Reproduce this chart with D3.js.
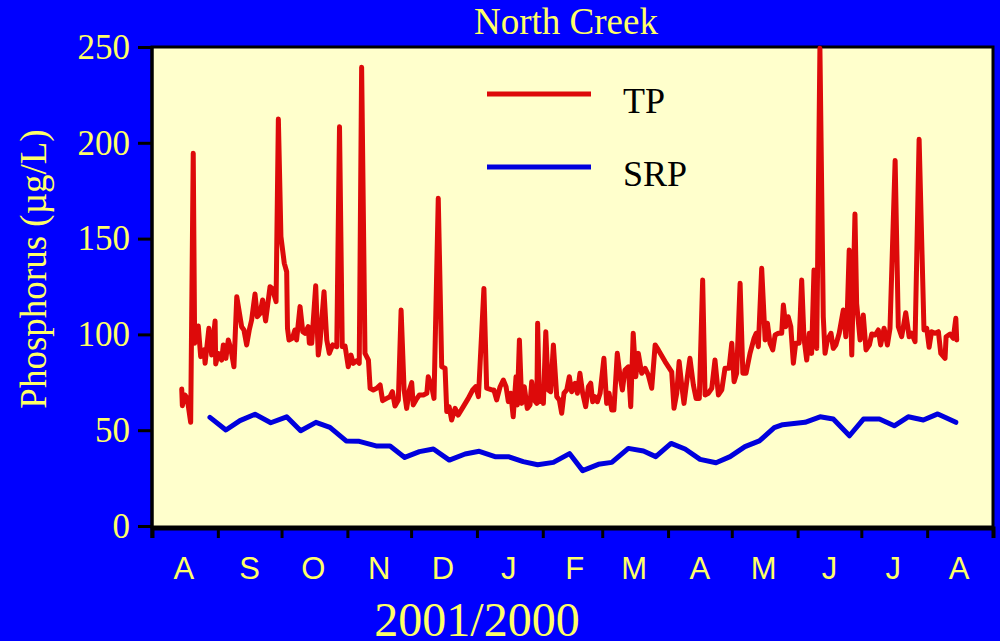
<!DOCTYPE html>
<html lang="en">
<head>
    <meta charset="UTF-8">
    <title>North Creek</title>
    <script src="https://d3js.org/d3.v7.min.js"></script>
    <style>
        html, body { margin: 0; padding: 0; background: #0000ff; }
        svg { display: block; }
        .serif { font-family: "Liberation Serif", "Times New Roman", serif; }
        .sans { font-family: "Liberation Sans", Arial, sans-serif; }
    </style>
</head>
<body>
    <div id="chart"></div>
    <script>
        // days since 1 Aug 2000
        const tpDays = [14.0, 14.3, 15.5, 16.6, 18.2, 19.4, 20.1, 21.8, 22.9, 24.6, 25.0, 26.8, 28.1, 29.7, 30.0,
            31.2, 32.8, 33.6, 34.8, 35.9, 37.1, 38.6, 39.9, 42.2, 43.3, 44.6, 45.8, 46.9, 48.5, 49.6,
            50.9, 52.1, 53.5, 55.6, 56.6, 58.4, 59.5, 60.7, 62.3, 63.4, 63.8, 64.5, 66.1, 67.3, 68.1,
            69.7, 71.0, 72.0, 73.6, 74.1, 75.2, 77.1, 78.3, 79.1, 81.0, 82.3, 83.5, 85.1, 87.0, 88.3,
            89.6, 90.9, 92.4, 93.7, 94.8, 96.4, 97.6, 98.7, 100.3, 101.9, 102.7, 104.2, 105.8, 107.4, 108.6,
            110.5, 112.1, 113.2, 114.4, 116.0, 117.3, 118.7, 119.9, 121.2, 122.3, 123.0, 124.3, 125.9, 127.8, 129.4,
            130.1, 131.7, 132.8, 134.8, 136.4, 138.0, 138.8, 139.9, 141.1, 142.7, 144.2, 146.6, 148.9, 151.0, 152.4,
            153.7, 156.3, 157.6, 160.0, 161.0, 162.3, 163.9, 165.4, 166.7, 167.8, 168.9, 170.1, 171.4, 172.0, 173.0,
            174.1, 175.3, 176.7, 178.0, 178.8, 179.9, 181.2, 181.6, 182.4, 183.5, 184.3, 185.4, 186.6, 187.7, 189.0,
            190.6, 191.8, 192.9, 194.0, 195.3, 196.5, 197.6, 199.2, 200.3, 201.5, 202.8, 204.2, 205.5, 206.6, 207.5,
            208.6, 209.7, 211.0, 212.8, 214.1, 215.2, 216.5, 217.5, 219.1, 220.4, 221.5, 222.7, 224.3, 225.4, 226.6,
            227.8, 229.0, 230.6, 232.2, 233.7, 235.3, 236.9, 238.4, 241.6, 244.7, 245.8, 247.1, 248.2, 249.4, 250.5,
            252.1, 253.3, 254.9, 256.2, 257.7, 259.3, 260.4, 262.0, 263.6, 265.1, 266.7, 268.3, 269.8, 271.7, 273.0,
            274.1, 275.3, 276.9, 278.2, 279.7, 281.6, 283.5, 284.5, 285.5, 287.1, 288.7, 289.8, 291.0, 292.3, 293.4,
            294.9, 296.5, 297.3, 298.4, 299.6, 300.8, 302.0, 303.1, 304.7, 305.9, 307.0, 308.3, 309.5, 310.6, 311.7,
            313.0, 314.5, 316.1, 316.9, 318.0, 319.7, 320.8, 322.0, 323.6, 325.5, 326.7, 327.4, 328.3, 329.5, 331.0,
            331.8, 333.4, 334.9, 336.2, 337.8, 338.9, 340.5, 342.0, 343.1, 344.7, 346.3, 347.5, 349.9, 351.4, 353.0,
            354.9, 356.5, 357.7, 359.3, 361.2, 363.5, 364.8, 365.9, 367.1, 368.7, 370.3, 371.4, 373.4, 373.9, 375.8,
            377.3, 378.5, 378.9];
        const tpValues = [71.5, 62.8, 68.4, 66.6, 54.1, 194.5, 95.4, 104.4, 88.4, 91.9, 84.9, 103.2, 89.2, 107, 84.6,
            90.1, 86.6, 94.5, 87.5, 97.1, 92.7, 83.1, 119.7, 104, 102.3, 94.5, 102.3, 107.5, 121.1, 109.2,
            111, 118, 107, 124.9, 124, 117.1, 212.4, 151, 137.1, 132.7, 103.2, 97.1, 98, 102.3, 97.1,
            114.5, 101.4, 100.6, 104, 95.4, 95.4, 125.4, 89.2, 95.4, 122.3, 97.1, 90.1, 94.5, 93.6, 208.4,
            93.6, 93.9, 83.1, 89.2, 84.9, 86.3, 84.9, 239.4, 90.1, 86.6, 71.9, 71, 71.9, 73.6, 65.4,
            66.6, 67.5, 70.1, 62.6, 65.8, 112.7, 71, 61.4, 71, 74.8, 63.2, 65.8, 68.4, 68.4, 69.3,
            77.9, 72.7, 66.6, 171, 83.1, 82.3, 59.7, 62.3, 55.3, 61.4, 57.9, 62.3, 66.6, 71, 72.7,
            67.5, 124, 71.9, 71, 71, 65.8, 72.7, 76.2, 72.7, 64.9, 69.3, 57, 77.9, 63.2, 97.1,
            64, 72.7, 61.4, 63.2, 75.3, 65.8, 64, 105.8, 64.9, 71, 64, 101.4, 71, 70.1, 94.5,
            67.5, 65.8, 58.8, 69.3, 71, 77.9, 70.1, 74.5, 69.3, 79.7, 69.3, 62.3, 72.7, 74.5, 64.9,
            67.5, 64.9, 69.3, 87.5, 64, 69.3, 60.5, 60.5, 90.1, 77.9, 71, 81.4, 83.1, 62.3, 100.6,
            77.9, 90.1, 79.7, 82.3, 78.8, 71.9, 94.5, 91.9, 85.8, 80.5, 61.4, 69.3, 85.8, 73.6, 64,
            77.9, 87.5, 73.6, 66.6, 66.6, 128.4, 68.4, 69.3, 71.9, 86.6, 68.4, 71, 82.3, 82.3, 95.4,
            75.3, 79.7, 126.7, 79.7, 79.7, 90.1, 98, 100.6, 93.6, 134.5, 97.1, 105.8, 95.4, 91.9, 99.7,
            100.6, 100.6, 115.3, 104, 109.2, 104, 84.9, 95.4, 95.4, 128.4, 98, 86.6, 100.6, 90.1, 133.6,
            92.7, 249.3, 109.2, 90.1, 97.1, 100.6, 92.7, 94.5, 100.6, 112.7, 98.8, 112.7, 144, 89.2, 162.8,
            116.2, 97.1, 110.1, 91.9, 94.5, 100.2, 99.7, 102.3, 94.5, 103.2, 94.5, 103.2, 190.7, 104, 98.8,
            111.3, 98.8, 100.6, 96.2, 201.8, 102.3, 103.2, 93.3, 101.4, 100.6, 101.4, 90.1, 87.5, 98.8, 100.2,
            98, 108.4, 97.1];

        const srpDays = [27.3, 34.8, 41.4, 48.5, 55.9, 63.4, 70.0, 77.2, 83.8, 91.4, 97.6, 105.5, 112.1, 119.0, 125.9,
            132.5, 140.0, 147.4, 154.1, 161.5, 167.8, 174.8, 181.6, 189.0, 196.6, 202.8, 210.2, 216.5, 224.3, 231.4,
            237.2, 244.4, 251.0, 258.1, 265.6, 272.2, 279.2, 286.0, 293.0, 297.0, 307.5, 314.6, 320.8, 328.4, 335.0,
            342.5, 349.5, 356.1, 363.2, 370.0, 378.5];
        const srpValues = [56.7, 50.1, 55, 58.3, 53.9, 57, 49.7, 54.1, 51.5, 44.4, 44.2, 41.8, 41.8, 35.8, 38.8,
            40.2, 34.4, 37.6, 39, 36.2, 36.2, 33.6, 32, 33.2, 37.8, 28.9, 32.2, 33.2, 40.5, 39.1,
            36.2, 43.1, 40.2, 34.8, 33, 36.2, 41.4, 44.4, 51.3, 52.9, 54.1, 57, 55.8, 47.1, 55.8,
            55.8, 52.3, 57, 55.3, 58.5, 54.1];

        const yTicks = [0, 50, 100, 150, 200, 250];
        const monthLetters = ["A", "S", "O", "N", "D", "J", "F", "M", "A", "M", "J", "J", "A"];
        const seriesNames = ["TP", "SRP"];
        const seriesColors = ["#dd0a0a", "#0000dd"];

        const width = 1000, height = 641;
        const margin = { top: 47, right: 7, bottom: 114, left: 152 };
        const start = new Date(2000, 7, 1);
        const end = new Date(2001, 8, 1);
        const yellow = "#ffff66";

        const svg = d3.select("#chart").append("svg")
            .attr("width", width)
            .attr("height", height);

        svg.append("rect")
            .attr("width", width).attr("height", height)
            .attr("fill", "#0000ff");

        const x = d3.scaleTime()
            .domain([start, end])
            .range([margin.left, width - margin.right]);
        const y = d3.scaleLinear()
            .domain([0, 250])
            .range([height - margin.bottom - 1, margin.top]);

        // plot area
        svg.append("rect")
            .attr("x", margin.left)
            .attr("y", margin.top)
            .attr("width", width - margin.left - margin.right)
            .attr("height", height - margin.top - margin.bottom)
            .attr("fill", "#ffffcc")
            .attr("stroke", "#000")
            .attr("stroke-width", 3);

        const toDate = d => d3.timeHour.offset(start, Math.round(d * 24));
        const tp = tpDays.map((d, i) => ({ date: toDate(d), value: tpValues[i] }));
        const srp = srpDays.map((d, i) => ({ date: toDate(d), value: srpValues[i] }));

        const line = d3.line()
            .x(d => x(d.date))
            .y(d => y(d.value));

        [srp, tp].forEach((data, i) => {
            svg.append("path")
                .datum(data)
                .attr("fill", "none")
                .attr("stroke", i === 0 ? seriesColors[1] : seriesColors[0])
                .attr("stroke-width", 5)
                .attr("stroke-linejoin", "round")
                .attr("stroke-linecap", "round")
                .attr("d", line);
        });

        // axes
        const yAxis = svg.append("g")
            .attr("transform", `translate(${margin.left - 1},0)`)
            .call(d3.axisLeft(y).tickValues(yTicks).tickSize(13).tickPadding(8));
        yAxis.select(".domain").remove();
        yAxis.selectAll(".tick line").attr("stroke", "#000").attr("stroke-width", 3);
        yAxis.selectAll(".tick text")
            .attr("class", "serif")
            .attr("fill", yellow)
            .style("font-size", "35px");

        const xAxisY = height - margin.bottom + 1;
        const xAxis = svg.append("g")
            .attr("transform", `translate(0,${xAxisY})`)
            .call(d3.axisBottom(x).ticks(d3.timeMonth.every(1)).tickSize(10).tickFormat(""));
        xAxis.select(".domain").attr("stroke", "#000").attr("stroke-width", 4);
        xAxis.selectAll(".tick line").attr("stroke", "#000").attr("stroke-width", 3);

        svg.append("line")
            .attr("x1", margin.left).attr("x2", margin.left)
            .attr("y1", margin.top).attr("y2", xAxisY + 10)
            .attr("stroke", "#000").attr("stroke-width", 3);

        const months = d3.timeMonth.range(start, end).slice(0, monthLetters.length);
        svg.append("g").selectAll("text")
            .data(months)
            .join("text")
            .attr("class", "sans")
            .attr("x", d => x(new Date(d.getFullYear(), d.getMonth(), 16)))
            .attr("y", 579)
            .attr("text-anchor", "middle")
            .attr("fill", yellow)
            .style("font-size", "31px")
            .text((d, i) => monthLetters[i]);

        // titles
        svg.append("text")
            .attr("class", "serif")
            .attr("x", 566).attr("y", 34)
            .attr("text-anchor", "middle")
            .attr("fill", yellow)
            .style("font-size", "37px")
            .text("North Creek");

        svg.append("text")
            .attr("class", "serif")
            .attr("x", 477).attr("y", 636)
            .attr("text-anchor", "middle")
            .attr("fill", yellow)
            .style("font-size", "48px")
            .text("2001/2000");

        svg.append("text")
            .attr("class", "serif")
            .attr("transform", "translate(46,269) rotate(-90)")
            .attr("text-anchor", "middle")
            .attr("fill", yellow)
            .style("font-size", "37px")
            .text("Phosphorus (µg/L)");

        // legend
        const legend = svg.append("g");
        seriesNames.forEach((name, i) => {
            const ly = 94 + i * 73;
            legend.append("line")
                .attr("x1", 487).attr("x2", 591)
                .attr("y1", ly).attr("y2", ly)
                .attr("stroke", seriesColors[i])
                .attr("stroke-width", 5);
            legend.append("text")
                .attr("class", "serif")
                .attr("x", 623).attr("y", ly + 19)
                .attr("fill", "#000")
                .style("font-size", "36px")
                .text(name);
        });
    </script>
</body>
</html>
